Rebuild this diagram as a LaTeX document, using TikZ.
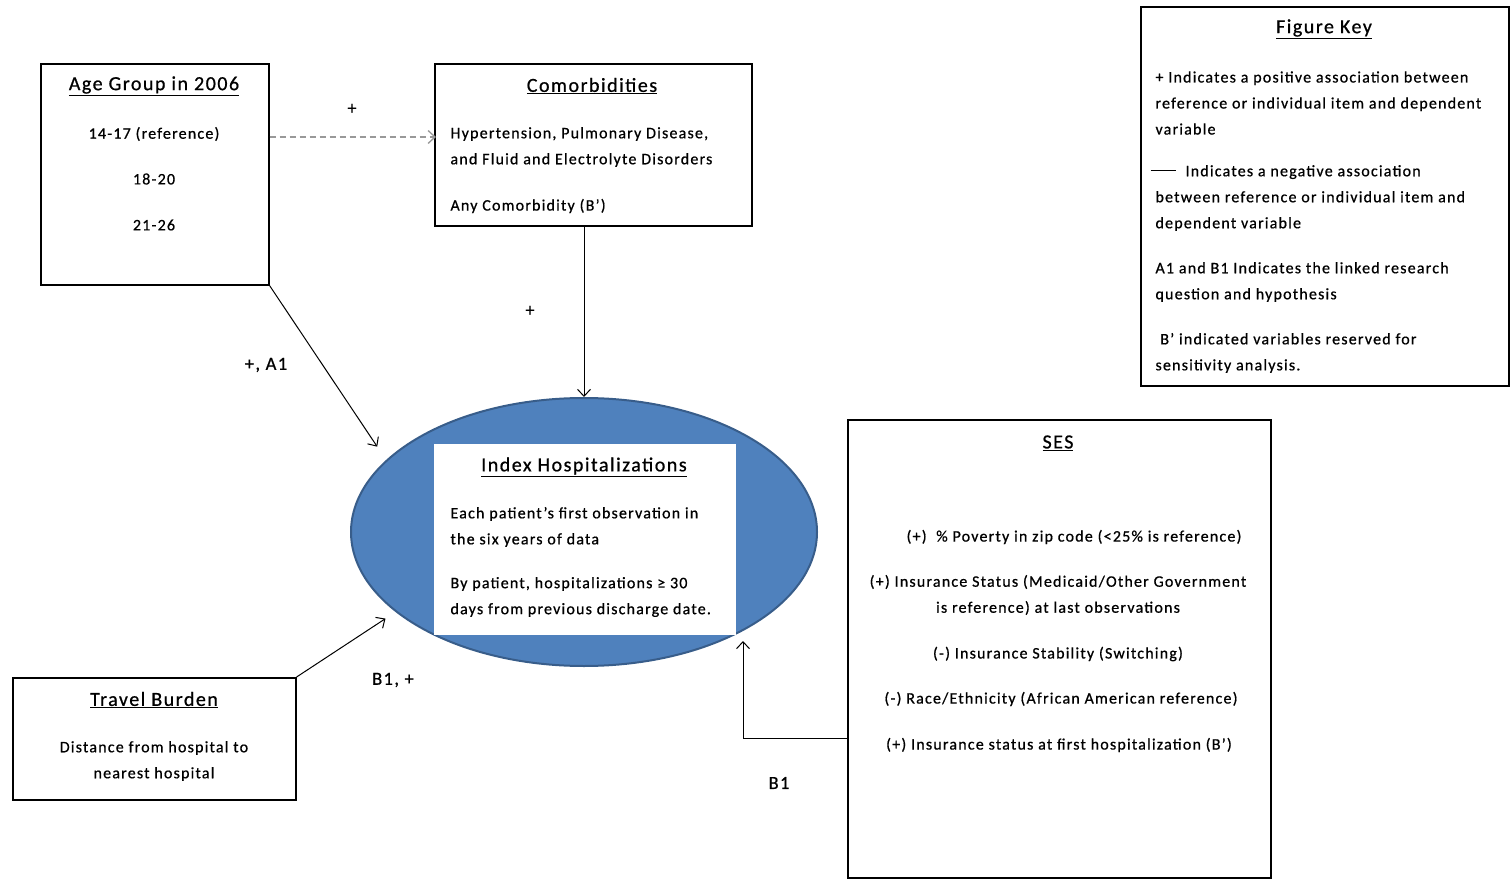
\documentclass[tikz,border=0pt]{standalone}
\usepackage{fontspec}
\setmainfont{Carlito}[LetterSpace=7.5, FakeBold=0.7]
\usetikzlibrary{shapes.geometric, arrows.meta, positioning, calc}
\definecolor{hospblue}{HTML}{4F81BD}
\definecolor{hospedge}{HTML}{385D8A}
\tikzset{
  box/.style={draw, line width=1.6pt, anchor=north west, inner sep=0pt},
  ttl/.style={font=\fontsize{20}{24}\selectfont, inner sep=0pt},
  txt/.style={font=\fontsize{16}{26}\selectfont, inner sep=0pt},
  lbl/.style={font=\fontsize{18.5}{20}\selectfont, inner sep=0pt},
}

\begin{document}
\begin{tikzpicture}[x=1pt, y=-1pt, >={Straight Barb[length=7pt,width=13pt]}, line width=1pt]
\useasboundingbox (0,0) rectangle (1510,882);
% boxes
\node[box, minimum width=228, minimum height=221] (age) at (40,63) {};
\node[box, minimum width=317, minimum height=162] (comorb) at (434,63) {};
\node[box, minimum width=283, minimum height=122] (travel) at (12,677) {};
\node[box, minimum width=423, minimum height=458] (ses) at (847,419) {};
\node[box, minimum width=368, minimum height=379] (key) at (1140,6) {};
\node[ellipse, draw=hospedge, line width=2pt, fill=hospblue, minimum width=466, minimum height=268, inner sep=0pt] (hosp) at (584,532) {};
\node[fill=white, anchor=north west, minimum width=302, minimum height=191, inner sep=0pt] (hospbox) at (433,443) {};

% age group
\node[ttl] (agettl) at (154,86) {\underline{Age Group in 2006}};
\node[txt] (agea) at (154,134) {14-17 (reference)};
\node[txt] (ageb) at (154,179) {18-20};
\node[txt] (agec) at (154,225) {21-26};

% comorbidities
\node[ttl] (comttl) at (592,86) {\underline{Comorbidities}};
\node[txt, anchor=west, align=left] (coma) at (450,147) {Hypertension, Pulmonary Disease,\\and Fluid and Electrolyte Disorders};
\node[txt, anchor=west] (comb) at (450,206) {Any Comorbidity (B’)};

% index hospitalizations
\node[ttl] (hospttl) at (584,467) {\underline{Index Hospitalizations}};
\node[txt, anchor=west, align=left] (hospa) at (450,527) {Each patient’s first observation in\\the six years of data};
\node[txt, anchor=west, align=left] (hospb) at (450,597) {By patient, hospitalizations ≥ 30\\days from previous discharge date.};

% travel burden
\node[ttl] (travttl) at (154,700) {\underline{Travel Burden}};
\node[txt, align=center] (trava) at (154,761) {Distance from hospital to\\nearest hospital};

% SES
\node[ttl] (sesttl) at (1058,443) {\underline{SES}};
\node[txt] (sesa) at (1074,537) {(+)\ \ \% Poverty in zip code (<25\% is reference)};
\node[txt, align=center] (sesb) at (1058,595) {(+) Insurance Status (Medicaid/Other Government\\is reference) at last observations};
\node[txt] (sesc) at (1058,654) {(-) Insurance Stability (Switching)};
\node[txt] (sesd) at (1061,699) {(-) Race/Ethnicity (African American reference)};
\node[txt] (sese) at (1059,745) {(+) Insurance status at first hospitalization (B’)};

% figure key
\node[ttl] (keyttl) at (1324,29) {\underline{Figure Key}};
\node[txt, anchor=west, align=left] (keya) at (1155,103) {+ Indicates a positive association between\\reference or individual item and dependent\\variable};
\node[txt, anchor=west, align=left] (keyb) at (1155,198) {\hspace*{-5pt}\rule[0.3em]{25pt}{1pt}\hspace{10pt}Indicates a negative association\\between reference or individual item and\\dependent variable};
\node[txt, anchor=west, align=left] (keyc) at (1155,282) {A1 and B1 Indicates the linked research\\question and hypothesis};
\node[txt, anchor=west, align=left] (keyd) at (1155,353) {\ B’ indicated variables reserved for\\sensitivity analysis.};

% labels
\node[lbl] (plusa) at (352,109) {+};
\node[lbl] (plusb) at (530,311) {+};
\node[lbl] (agelbl) at (266,365) {+, A1};
\node[lbl] (travlbl) at (393,680) {B1, +};
\node[lbl] (seslbl) at (779,783) {B1};

% connectors
\coordinate (sesout) at (847,738);
\coordinate (hosin) at (743,641);
\draw[->, dash pattern=on 6pt off 4pt, black!40, line width=1.3pt] ($(age.east |- agea)+(0,3)$) -- ($(comorb.west |- agea)+(2,3)$);
\draw[->] (hosp.north |- comorb.south) -- (hosp.north);
\draw[->, shorten >=16pt] (age.south east) -- (hosp.160);
\draw[->, shorten >=12pt] (travel.north east) -- (hosp.203);
\draw[->] (sesout) -| (hosin);

\end{tikzpicture}
\end{document}
